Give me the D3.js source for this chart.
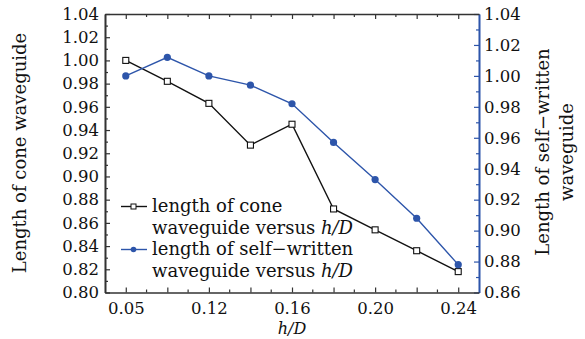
<!DOCTYPE html>
<html>
<head>
<meta charset="utf-8">
<script src="https://cdn.jsdelivr.net/npm/d3@7.9.0/dist/d3.min.js"></script>
<style>
  body { margin: 0; background: #fff; }
  svg text { font-family: "DejaVu Serif", serif; fill: #111; }
</style>
</head>
<body>
<svg id="chart" width="585" height="339"></svg>
<script>
// ================================
// Data
// ================================
const hD = ["0.05", "0.08", "0.12", "0.14", "0.16", "0.18", "0.20", "0.22", "0.24"];
const tickLabels = ["0.05", "0.12", "0.16", "0.20", "0.24"];
const coneLen = [1.000, 0.982, 0.963, 0.927, 0.945, 0.872, 0.854, 0.836, 0.818];
const selfLen = [1.000, 1.012, 1.000, 0.994, 0.982, 0.957, 0.933, 0.908, 0.878];
const leftTicks = d3.range(0.80, 1.0401, 0.02);
const rightTicks = d3.range(0.86, 1.0401, 0.02);

const blue = "#2d55aa";
const axisCol = "#333";

const svg = d3.select("#chart");
const m = { left: 105, right: 479, top: 14, bottom: 292.5 };

const x = d3.scalePoint().domain(hD).range([m.left, m.right]).padding(0.5);
const yL = d3.scaleLinear().domain([0.80, 1.04]).range([m.bottom, m.top]);
const yR = d3.scaleLinear().domain([0.86, 1.04]).range([m.bottom, m.top]);

// ================================
// Axes
// ================================
function style(g, col) {
  g.select(".domain").attr("stroke", col).attr("stroke-width", 1.6);
  g.selectAll(".tick line").attr("stroke", col).attr("stroke-width", 1.2);
  g.selectAll(".tick text").attr("font-size", 16.5).attr("fill", "#111");
}

// left
svg.append("g").attr("transform", `translate(${m.left},0)`)
  .call(d3.axisLeft(yL).tickValues(d3.range(0.81, 1.04, 0.02)).tickSize(-3).tickSizeOuter(0).tickFormat(""))
  .call(g => style(g, axisCol));
svg.append("g").attr("transform", `translate(${m.left},0)`)
  .call(d3.axisLeft(yL).tickValues(leftTicks).tickSize(-5).tickSizeOuter(0).tickPadding(6).tickFormat(d3.format(".2f")))
  .call(g => style(g, axisCol));

// right
svg.append("g").attr("transform", `translate(${m.right},0)`)
  .call(d3.axisRight(yR).tickValues(d3.range(0.87, 1.04, 0.02)).tickSize(-3).tickSizeOuter(0).tickFormat(""))
  .call(g => style(g, blue));
svg.append("g").attr("transform", `translate(${m.right},0)`)
  .call(d3.axisRight(yR).tickValues(rightTicks).tickSize(-5).tickSizeOuter(0).tickPadding(5).tickFormat(d3.format(".2f")))
  .call(g => style(g, blue));

// bottom + top
const mids = hD.slice(1).map((d, i) => (x(hD[i]) + x(d)) / 2);
svg.append("g").attr("transform", `translate(0,${m.bottom})`)
  .call(d3.axisBottom(x).tickSize(-5).tickSizeOuter(0).tickPadding(10)
    .tickFormat(d => tickLabels.includes(d) ? d : ""))
  .call(g => style(g, axisCol));
svg.append("g").attr("transform", `translate(0,${m.top})`)
  .call(d3.axisTop(x).tickSize(-5).tickSizeOuter(0).tickFormat(""))
  .call(g => style(g, axisCol));
svg.append("g").selectAll("line").data(mids).join("line")
  .attr("x1", d => d).attr("x2", d => d)
  .attr("y1", m.bottom).attr("y2", m.bottom - 3)
  .attr("stroke", axisCol).attr("stroke-width", 1.2);
svg.append("g").selectAll("line").data(mids).join("line")
  .attr("x1", d => d).attr("x2", d => d)
  .attr("y1", m.top).attr("y2", m.top + 3)
  .attr("stroke", axisCol).attr("stroke-width", 1.2);

// ================================
// Series
// ================================
const lineCone = d3.line().x((d, i) => x(hD[i])).y(d => yL(d));
const lineSelf = d3.line().x((d, i) => x(hD[i])).y(d => yR(d));

svg.append("path").datum(coneLen).attr("d", lineCone)
  .attr("fill", "none").attr("stroke", "#111").attr("stroke-width", 1.4);
svg.append("path").datum(selfLen).attr("d", lineSelf)
  .attr("fill", "none").attr("stroke", blue).attr("stroke-width", 1.4);

svg.append("g").selectAll("rect").data(coneLen).join("rect")
  .attr("x", (d, i) => x(hD[i]) - 3).attr("y", d => yL(d) - 3)
  .attr("width", 6).attr("height", 6)
  .attr("fill", "#fff").attr("stroke", "#111").attr("stroke-width", 1.1);
svg.append("g").selectAll("circle").data(selfLen).join("circle")
  .attr("cx", (d, i) => x(hD[i])).attr("cy", d => yR(d)).attr("r", 3.6)
  .attr("fill", blue);

// ================================
// Legend
// ================================
const legend = svg.append("g").attr("font-size", 18);
const rows = [
  { y: 212, text: "length of cone", mark: "square" },
  { y: 233.5, text: "waveguide versus " },
  { y: 255, text: "length of self\u2212written", mark: "circle" },
  { y: 276.5, text: "waveguide versus " }
];
rows.forEach(r => {
  const t = legend.append("text").attr("x", 152).attr("y", r.y);
  t.append("tspan").text(r.text);
  if (r.text.startsWith("waveguide")) t.append("tspan").attr("font-style", "italic").text("h/D");
  if (r.mark) {
    const ly = r.y - 5.5;
    const col = r.mark === "square" ? "#111" : blue;
    legend.append("line").attr("x1", 121).attr("x2", 147).attr("y1", ly).attr("y2", ly)
      .attr("stroke", col).attr("stroke-width", 1.4);
    if (r.mark === "square") {
      legend.append("rect").attr("x", 131).attr("y", ly - 2.5).attr("width", 5).attr("height", 5)
        .attr("fill", "#fff").attr("stroke", "#111").attr("stroke-width", 1);
    } else {
      legend.append("circle").attr("cx", 133.5).attr("cy", ly).attr("r", 2.8).attr("fill", blue);
    }
  }
});

// ================================
// Axis titles
// ================================
svg.append("text").attr("transform", "translate(26,153) rotate(-90)")
  .attr("text-anchor", "middle").attr("font-size", 18).text("Length of cone waveguide");
svg.append("text").attr("transform", "translate(549,152) rotate(-90)")
  .attr("text-anchor", "middle").attr("font-size", 18).text("Length of self\u2212written");
svg.append("text").attr("transform", "translate(573,152) rotate(-90)")
  .attr("text-anchor", "middle").attr("font-size", 18).text("waveguide");
svg.append("text").attr("x", 292).attr("y", 334).attr("text-anchor", "middle")
  .attr("font-size", 16).attr("font-style", "italic").text("h/D");
</script>
</body>
</html>
